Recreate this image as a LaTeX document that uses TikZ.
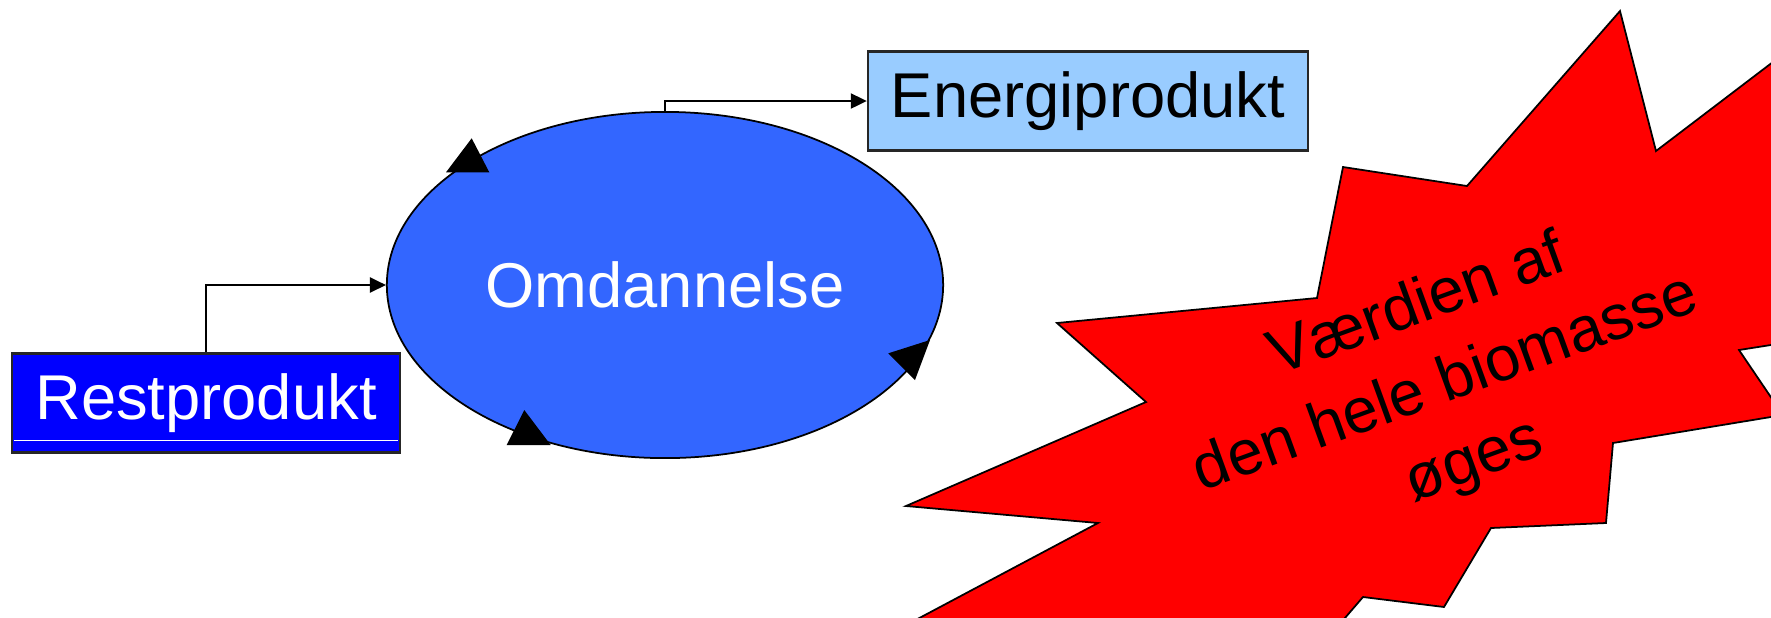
\documentclass[tikz,border=0pt]{standalone}
\usepackage{fontspec}
\setmainfont{Liberation Sans}
\usetikzlibrary{positioning, shapes.geometric, arrows.meta}

\definecolor{restblue}{HTML}{0000FF}
\definecolor{omdblue}{HTML}{3366FF}
\definecolor{energiblue}{HTML}{99CCFF}

\begin{document}
\begin{tikzpicture}[x=0.01cm, y=-0.01cm,
    every node/.style={font=\fontsize{18}{23.5}\selectfont},
    box/.style={draw=black!85, line width=0.6pt, inner sep=0pt, minimum width=#1, minimum height=0.99cm},
    flow/.style={line width=0.6pt, -{Triangle[length=0.16cm, width=0.15cm]}}]
    \useasboundingbox (0,0) rectangle (1771,617);
    % the three parts of the chain
    \node[box=3.87cm, fill=restblue, text=white] (rest) at (206,403) {Restprodukt};
    \draw[white, line width=0.3pt] ([shift={(0.03cm,0.13cm)}]rest.south west) -- ([shift={(-0.03cm,0.13cm)}]rest.south east);
    \node[ellipse, draw, line width=0.5pt, fill=omdblue, text=white, inner sep=0pt,
          minimum width=5.56cm, minimum height=3.46cm] (omd) at (665,285) {Omdannelse};
    \node[box=4.40cm, fill=energiblue] (energi) at (1088,101) {Energiprodukt};
    \draw[flow] (rest.north) |- (omd.west);
    \draw[flow] (omd.north) |- (energi.west);
    % arrow heads running round the ellipse
    \foreach \a/\b/\c in {{(471.7,138.3)}/{(446,172.3)}/{(489.3,172.3)},
                          {(524.3,410)}/{(506.7,445)}/{(550.7,445)},
                          {(930,340)}/{(888.3,353.3)}/{(915,380)}}
    {
    \fill[black] \a -- \b -- \c -- cycle;
    }
    % the burst
    \begin{scope}
    \clip (0,0) rectangle (1771,617);
    \filldraw[fill=red, draw=black, line width=0.5pt]
        (1620,11) -- (1656,151) -- (1790,49) -- (1790,342) -- (1739,350) -- (1783,415)
        -- (1613,443) -- (1606,523) -- (1491,528) -- (1444,607) -- (1363,597) -- (1326,640)
        -- (878,640) -- (1098,523) -- (906,506) -- (1146,402) -- (1057,323) -- (1317,298)
        -- (1343,167) -- (1467,186) -- cycle;
    \end{scope}
    \node[rotate=20, align=center] (value) at (1446,385) {Værdien af\\den hele biomasse\\øges};
\end{tikzpicture}
\end{document}
